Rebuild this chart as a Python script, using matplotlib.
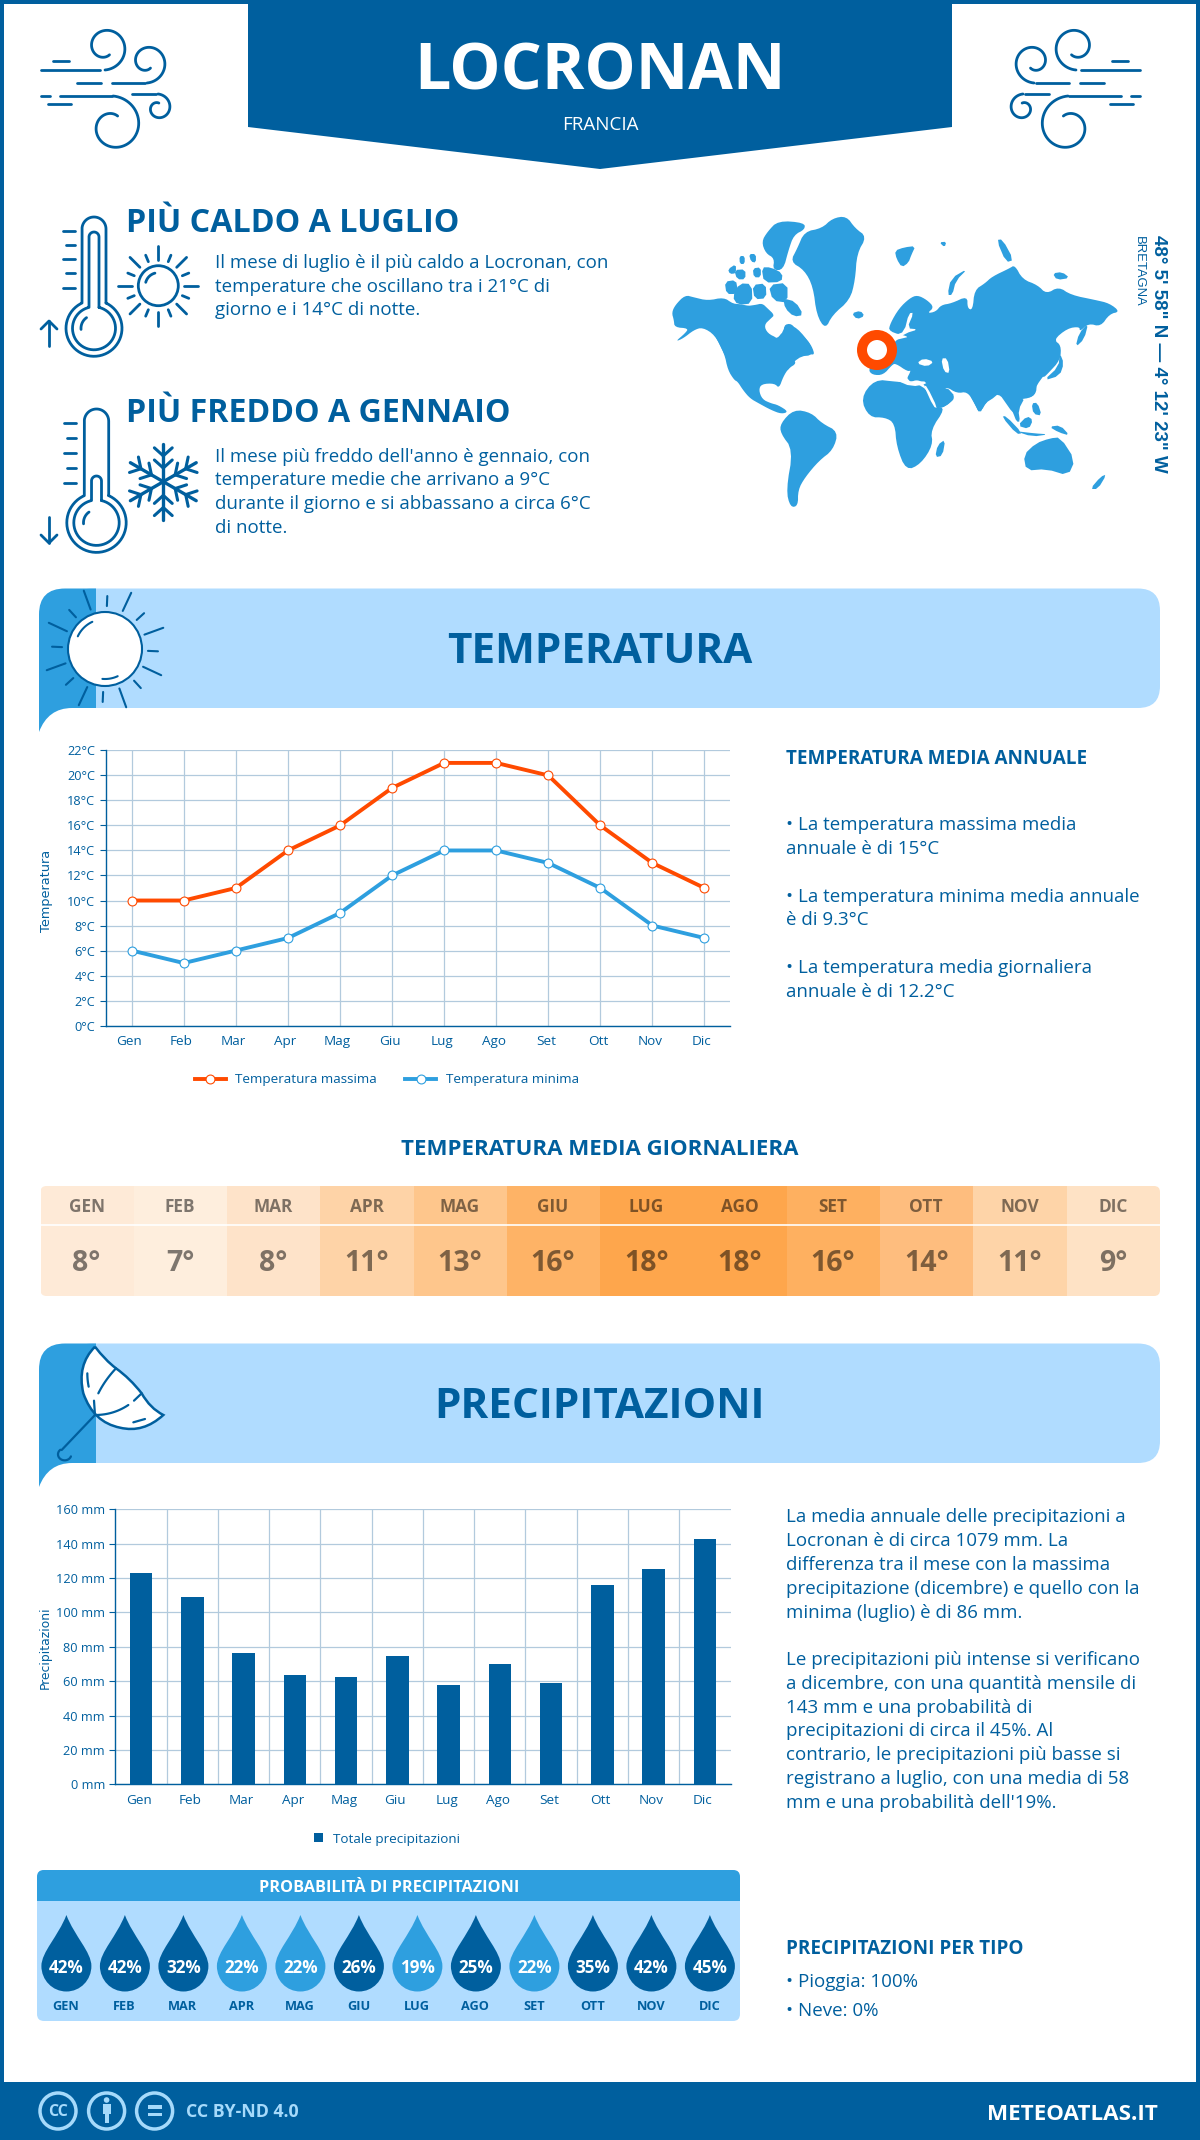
import numpy as np
import matplotlib
matplotlib.use("Agg")
import matplotlib.pyplot as plt
from matplotlib.patches import Rectangle, FancyBboxPatch, PathPatch, Circle, Ellipse
from matplotlib.path import Path
from matplotlib.transforms import ScaledTranslation

plt.rcParams['font.family'] = ['Open Sans', 'DejaVu Sans']

months = ["Gen", "Feb", "Mar", "Apr", "Mag", "Giu", "Lug", "Ago", "Set", "Ott", "Nov", "Dic"]
temp_max = [10, 10, 11, 14, 16, 19, 21, 21, 20, 16, 13, 11]
temp_min = [6, 5, 6, 7, 9, 12, 14, 14, 13, 11, 8, 7]
temp_ticks = list(range(0, 23, 2))
daily_mean = [8, 7, 8, 11, 13, 16, 18, 18, 16, 14, 11, 9]
daily_colors = ["#FEEAD7", "#FEEEDD", "#FEE3C9", "#FED3A7", "#FEC68C", "#FEB366",
                "#FEA64C", "#FEA64C", "#FEB060", "#FEBD7E", "#FED4A8", "#FEE2C5"]
rain = [123, 109, 76.4, 63.6, 62.4, 74.7, 57.8, 70, 59, 116, 125.3, 143]
rain_ticks = list(range(0, 161, 20))
rain_prob = [42, 42, 32, 22, 22, 26, 19, 25, 22, 35, 42, 45]

DARK = "#005F9E"
MID = "#2E9FDF"
LIGHT = "#B0DCFF"
ORANGE = "#FF4A00"
GRID = "#B2CADD"

W, H = 1200, 2140
fig = plt.figure(figsize=(W / 100, H / 100), dpi=100, facecolor="white")
bg = fig.add_axes([0, 0, 1, 1])
bg.set_xlim(0, W)
bg.set_ylim(H, 0)
bg.axis("off")


def txt(x, y, s, size, weight="normal", color=DARK, ha="left", **kw):
    return bg.text(x, y, s, fontsize=size, fontweight=weight, color=color, ha=ha, va="baseline", **kw)


def line(xs, ys, lw=2.0, color=DARK, **kw):
    bg.plot(xs, ys, color=color, lw=lw, solid_capstyle="round", solid_joinstyle="round", **kw)


def spiral(cx, cy, r0, r1, a0, a1, lw=2.0, color=DARK, flip=None):
    a = np.radians(np.linspace(a0, a1, 80))
    r = np.linspace(r0, r1, 80)
    xs = cx + r * np.cos(a)
    ys = cy + r * np.sin(a)
    if flip:
        xs = flip - xs
    line(xs, ys, lw, color)


def wind(flip=None):
    def seg(x0, y0, x1, y1):
        xs = np.array([x0, x1])
        line(flip - xs if flip else xs, [y0, y1], 2.0)
    seg(41, 70, 100, 70)
    seg(53, 61, 69, 61)
    seg(77, 83, 101, 83)
    seg(112, 83, 145, 83)
    seg(41, 96, 50, 96)
    seg(60, 96, 112, 96)
    seg(48, 104, 71, 104)
    seg(132, 94, 156, 94)
    spiral(105, 47, 23, 9, 90, -300, flip=flip)
    spiral(147, 62, 21, 7, 90, -300, flip=flip)
    spiral(113, 126, 30, 11, -90, 295, flip=flip)
    spiral(158, 108, 14, 5, -90, 280, flip=flip)


def thermometer(cx, top, tube, tube_in, top_in, cy, r, r_in, tick_x, tick_ys, arrow_y, up):
    for hw, t, rr in [(tube, top, r), (tube_in, top_in, r_in)]:
        a0 = np.degrees(np.arcsin(hw / rr))
        ang = np.radians(np.linspace(-90 + a0, 270 - a0, 100))
        xs = list(cx + rr * np.cos(ang))
        ys = list(cy + rr * np.sin(ang))
        cap = np.radians(np.linspace(180, 360, 30))
        xs += list(cx + hw * np.cos(cap))
        ys += list(t + hw + hw * np.sin(cap))
        xs.append(xs[0])
        ys.append(ys[0])
        line(xs, ys, 2.0)
    spiral(cx, cy, 13, 13, 175, 235)
    for i, y in enumerate(tick_ys):
        line([tick_x if i % 2 == 0 else tick_x + 3.5, tick_x + 12.5], [y, y], 2.0)
    tip, end = arrow_y if up else arrow_y[::-1]
    line([49, 49], [tip, end], 2.0)
    d = 8 if up else -8
    line([41, 49, 57], [tip + d, tip, tip + d], 2.0)


def sun(cx, cy, r, long0, long1, short0, short1, rot, lw, fill="none"):
    for k in range(16):
        a = np.radians(rot + k * 22.5)
        r0, r1 = (long0, long1) if k % 2 == 0 else (short0, short1)
        line([cx + r0 * np.cos(a), cx + r1 * np.cos(a)], [cy + r0 * np.sin(a), cy + r1 * np.sin(a)], lw)
    bg.add_patch(Circle((cx, cy), r, fc=fill, ec=DARK, lw=lw, zorder=3))


def snowflake(cx, cy, R):
    for k in range(6):
        a = np.radians(90 + 60 * k)
        ux, uy = np.cos(a), np.sin(a)
        line([cx, cx + R * ux], [cy, cy + R * uy], 2.4)
        for f in (0.68, 0.36):
            bx, by = cx + f * R * ux, cy + f * R * uy
            for s in (-1, 1):
                aa = a + s * np.radians(48)
                line([bx, bx + 12 * np.cos(aa)], [by, by + 12 * np.sin(aa)], 2.2)


def band(top, title):
    bot = top + 119.5
    bg.add_patch(FancyBboxPatch((70, top), 1090, bot - top, boxstyle="round,pad=0,rounding_size=22",
                                fc=LIGHT, ec="none", zorder=1))
    verts = [(39, bot + 24), (39, top + 26), (39, top), (65, top), (96, top), (96, bot), (72, bot),
             (48, bot), (39, bot + 24), (39, bot + 24)]
    codes = [Path.MOVETO, Path.LINETO, Path.CURVE3, Path.CURVE3, Path.LINETO, Path.LINETO, Path.LINETO,
             Path.CURVE3, Path.CURVE3, Path.CLOSEPOLY]
    bg.add_patch(PathPatch(Path(verts, codes), fc=MID, ec="none", zorder=1.1))
    txt(600, top + 74.5, title, 30.4, "bold", ha="center", zorder=5)


def umbrella():
    # all points below are in crop units, origin at 30,1335, scale 3
    def u(p):
        return [(30 + a / 3, 1335 + b / 3) for a, b in p]
    v = u([(195, 35), (225, 75), (258, 100), (300, 130), (335, 175), (360, 220), (400, 240),
           (340, 295), (270, 278), (190, 262), (160, 175), (140, 90), (195, 35)])
    c = [Path.MOVETO] + [Path.CURVE3] * 12
    bg.add_patch(PathPatch(Path(v, c), fc="white", ec=DARK, lw=1.8, zorder=4))
    for seg in ([(195, 240), (192, 197)], [(205, 175), (225, 135), (258, 100)],
                [(195, 240), (250, 240), (295, 210)], [(312, 197), (335, 175)],
                [(172, 115), (172, 135), (176, 155)], [(310, 262), (345, 252)],
                [(195, 240), (95, 345)]):
        pts = u(seg)
        if len(pts) == 3:
            t = np.linspace(0, 1, 20)
            xs = (1 - t) ** 2 * pts[0][0] + 2 * t * (1 - t) * pts[1][0] + t ** 2 * pts[2][0]
            ys = (1 - t) ** 2 * pts[0][1] + 2 * t * (1 - t) * pts[1][1] + t ** 2 * pts[2][1]
        else:
            xs, ys = zip(*pts)
        line(xs, ys, 1.6, zorder=5)
    a = np.radians(np.linspace(-130, -340, 30))
    line(30 + (104 + 20 * np.cos(a)) / 3, 1335 + (358 + 18 * np.sin(a)) / 3, 1.6, zorder=5)


# frame, header, footer
bg.add_patch(Rectangle((0, 0), W, 3.5, fc=DARK, ec="none"))
bg.add_patch(Rectangle((0, 0), 3.5, H, fc=DARK, ec="none"))
bg.add_patch(Rectangle((1196, 0), 4, H, fc=DARK, ec="none"))
bg.add_patch(Rectangle((0, 2082), W, H - 2082, fc=DARK, ec="none"))
bg.fill([248, 952, 952, 600, 248], [0, 0, 127, 169, 127], color=DARK, lw=0)
txt(600, 89, "LOCRONAN", 46.5, "bold", "white", ha="center")
txt(600, 130, "FRANCIA", 13.5, "normal", "white", ha="center")
wind()
wind(flip=1181)

# two facts on hot / cold month
txt(125.5, 232, "PIÙ CALDO A LUGLIO", 23.2, "bold")
for y, s in zip([268, 292, 315], ["Il mese di luglio è il più caldo a Locronan, con",
                                  "temperature che oscillano tra i 21°C di",
                                  "giorno e i 14°C di notte."]):
    txt(215, y, s, 13.5)
txt(125.5, 422, "PIÙ FREDDO A GENNAIO", 23.1, "bold")
for y, s in zip([462, 485, 509, 533], ["Il mese più freddo dell'anno è gennaio, con",
                                       "temperature medie che arrivano a 9°C",
                                       "durante il giorno e si abbassano a circa 6°C",
                                       "di notte."]):
    txt(215, y, s, 13.5)
thermometer(94, 217, 12, 5, 232, 328.3, 28, 21.5, 62.5, [231, 245, 259.3, 273.3, 287.7], (321, 346), True)
thermometer(96.5, 409, 12.2, 5, 476, 522.7, 29.7, 22.7, 63.5, [423.3, 438, 453, 467.7, 482.7], (517, 543), False)
sun(158.3, 285.7, 20, 26, 40, 26, 33, 0, 2.0)
spiral(158.3, 285.7, 13, 13, 195, 255)
snowflake(163.3, 481.7, 38)

# world map, points are in crop units of the reference (origin 650,190)
land = [
    # north america
    [(62, 368), (72, 345), (100, 315), (125, 322), (165, 332), (210, 322), (235, 340), (262, 350), (300, 345),
     (320, 340), (335, 355), (355, 375), (345, 385), (325, 405), (335, 430), (365, 445), (372, 470), (385, 440),
     (380, 405), (405, 400), (420, 430), (445, 445), (462, 470), (470, 497), (445, 487), (420, 495), (405, 505),
     (418, 520), (395, 535), (380, 560), (368, 595), (355, 580), (318, 582), (310, 600), (320, 628), (345, 640),
     (365, 645), (395, 665), (375, 672), (345, 660), (310, 640), (285, 625), (265, 600), (250, 575), (240, 570),
     (222, 540), (212, 490), (185, 435), (150, 412), (125, 420), (95, 445), (72, 455), (100, 430), (110, 415),
     (70, 412), (68, 390)],
    [(130, 330), (330, 350), (320, 400), (330, 430), (365, 450), (380, 410), (410, 405), (450, 450), (470, 495),
     (420, 500), (380, 560), (250, 570), (215, 500), (185, 435)],
    # greenland
    [(400, 215), (420, 175), (440, 125), (490, 115), (520, 85), (560, 78), (585, 115), (618, 140), (590, 190),
     (585, 270), (570, 330), (520, 375), (500, 418), (475, 375), (465, 290), (440, 240)],
    # arctic islands
    [(335, 125), (365, 92), (440, 98), (442, 118), (410, 135), (395, 180), (380, 240), (350, 240), (355, 205),
     (330, 190), (318, 155)],
    [(213, 275), (245, 270), (250, 300), (245, 312), (218, 312)],
    [(255, 280), (290, 282), (292, 340), (250, 345), (235, 320)],
    [(292, 285), (330, 280), (332, 325), (298, 328)],
    [(338, 285), (392, 278), (392, 338), (350, 332)],
    [(380, 325), (415, 335), (438, 375), (410, 380), (385, 355)],
    [(222, 238), (245, 222), (245, 250), (228, 252)],
    [(240, 240), (272, 238), (272, 268), (248, 268)],
    [(293, 235), (316, 232), (316, 262), (296, 262)],
    [(318, 232), (345, 232), (378, 250), (375, 276), (325, 278)],
    [(282, 192), (302, 192), (302, 218), (288, 215)],
    [(255, 198), (270, 198), (270, 222), (256, 222)],
    # south america
    [(372, 700), (410, 658), (460, 668), (490, 700), (537, 725), (522, 780), (482, 812), (442, 862), (422, 900),
     (422, 948), (400, 952), (388, 900), (408, 780), (372, 730)],
    # africa
    [(600, 625), (640, 568), (700, 575), (780, 582), (815, 650), (842, 655), (800, 720), (807, 765), (772, 822),
     (730, 842), (703, 770), (698, 700), (670, 682), (625, 682)],
    # eurasia
    [(680, 425), (685, 400), (710, 355), (740, 325), (762, 315), (790, 330), (810, 352), (790, 370), (815, 365),
     (830, 345), (860, 340), (905, 318), (905, 355), (920, 360), (925, 300), (955, 280), (975, 260), (1025, 235),
     (1040, 225), (1062, 268), (1105, 285), (1130, 312), (1165, 290), (1200, 315), (1270, 330), (1310, 340),
     (1340, 365), (1310, 372), (1285, 410), (1250, 400), (1225, 425), (1225, 410), (1190, 415), (1150, 450),
     (1172, 465), (1170, 510), (1135, 550), (1120, 565), (1090, 540), (1085, 550), (1105, 590), (1095, 620),
     (1060, 625), (1040, 630), (1050, 665), (1035, 670), (1015, 640), (995, 610), (965, 625), (940, 672),
     (925, 640), (905, 605), (875, 610), (845, 590), (835, 585), (850, 605), (872, 622), (842, 650), (818, 655),
     (790, 600), (775, 575), (760, 570), (745, 575), (730, 570), (745, 540), (735, 545), (700, 520), (690, 525),
     (665, 555), (635, 555), (622, 540), (640, 510), (680, 500), (685, 480), (700, 450), (720, 445), (740, 440)],
    [(830, 400), (1150, 400), (1165, 500), (1120, 560), (1100, 590), (1095, 622), (1040, 630), (995, 610),
     (905, 600), (850, 595), (790, 590), (760, 540), (700, 500)],
    [(905, 600), (1000, 600), (985, 620), (955, 640), (940, 672), (925, 640)],
    [(1015, 620), (1070, 620), (1050, 660), (1055, 695), (1045, 695), (1035, 668)],
    [(790, 600), (845, 590), (872, 622), (842, 650), (818, 655)],
    # smaller land
    [(575, 370), (600, 362), (612, 378), (590, 388)],
    [(698, 182), (725, 172), (757, 168), (745, 195), (737, 218), (718, 232), (703, 207)],
    [(848, 315), (858, 265), (907, 235), (872, 272), (862, 315)],
    [(988, 150), (1005, 148), (1037, 210), (1015, 217)],
    [(1122, 572), (1165, 530), (1168, 488), (1180, 520), (1168, 557)],
    [(1213, 472), (1223, 430), (1250, 398), (1238, 447)],
    [(813, 802), (820, 765), (842, 748), (834, 797)],
    [(1065, 795), (1100, 760), (1140, 745), (1170, 742), (1212, 810), (1192, 857), (1130, 837), (1073, 842)],
    [(1255, 897), (1285, 860), (1302, 853), (1277, 897)],
    [(1003, 680), (1015, 678), (1062, 730), (1045, 732)],
    [(1048, 707), (1075, 678), (1092, 690), (1080, 717)],
    [(1138, 710), (1170, 706), (1197, 737), (1165, 727)],
    [(1088, 640), (1105, 638), (1117, 677), (1093, 672)],
    [(1040, 723), (1095, 730), (1137, 733), (1090, 740)],
    [(1148, 250), (1175, 246), (1197, 264), (1160, 270)],
    [(825, 157), (845, 155), (840, 172)],
]
seas = [
    [(738, 370), (752, 368), (733, 415), (765, 418), (728, 430), (705, 450), (700, 435), (725, 425)],
    [(760, 520), (780, 505), (810, 515), (790, 530)],
    [(830, 505), (848, 505), (855, 550), (838, 545)],
    [(780, 585), (790, 590), (820, 655), (808, 650)],
    [(665, 560), (695, 530), (712, 540), (738, 570), (745, 580), (780, 572), (790, 582), (745, 590), (700, 570)],
    [(345, 395), (385, 395), (380, 425), (365, 440), (340, 420)],
]


def smooth(p, n=1):
    p = np.array(p, float)
    for _ in range(n):
        q = np.roll(p, -1, axis=0)
        p = np.column_stack([0.75 * p + 0.25 * q, 0.25 * p + 0.75 * q]).reshape(-1, 2)
    return p


for p in land:
    s = smooth(p, 2 if len(p) > 10 else 1)
    bg.fill(650 + s[:, 0] / 2.851, 190 + s[:, 1] / 3, color=MID, lw=0)
for p in seas:
    s = smooth(p)
    bg.fill(650 + s[:, 0] / 2.851, 190 + s[:, 1] / 3, color="white", lw=0)
bg.add_patch(Circle((877, 350), 15, fc="white", ec=ORANGE, lw=7.2, zorder=3))
txt(1154, 235, "48° 5' 58\" N — 4° 12' 23\" W", 13.5, "bold", rotation=-90, family="Liberation Sans",
    rotation_mode="anchor")
txt(1136, 236, "BRETAGNA", 9.4, "normal", rotation=-90, family="Liberation Sans", rotation_mode="anchor")

# temperature section
band(588.5, "TEMPERATURA")
sun(105, 649, 37, 42, 62, 43, 53, -110, 1.5, fill="white")
for a0, a1 in [(205, 245), (65, 95)]:
    a = np.radians(np.linspace(a0, a1, 20))
    line(105 + 30 * np.cos(a), 649 + 30 * np.sin(a), 1.5, zorder=4)

ax1 = fig.add_axes([105.7 / W, 1 - 1025.6 / H, 624.8 / W, 275.2 / H])
ax1.patch.set_alpha(0)
ax1.plot(months, temp_max, color=ORANGE, lw=2.8, marker="o", ms=6.4, mfc="white", mec=ORANGE, mew=0.8,
         label="Temperatura massima", zorder=3, clip_on=False)
ax1.plot(months, temp_min, color=MID, lw=2.8, marker="o", ms=6.4, mfc="white", mec=MID, mew=0.8,
         label="Temperatura minima", zorder=3, clip_on=False)
ax1.set_xlim(-0.5, 11.5)
ax1.set_ylim(0, 22)
ax1.set_yticks(temp_ticks)
ax1.set_yticklabels([f"{v}°C" for v in temp_ticks])
ax1.grid(True, color=GRID, lw=0.9)
ax1.set_axisbelow(True)
ax1.set_ylabel("Temperatura", family="DejaVu Sans", fontsize=9.3, color=DARK)
ax1.yaxis.set_label_coords((53 - 105.7) / 624.8, 0.49)
ax1.legend(loc="center", bbox_to_anchor=(387 / W, 1 - 1080 / H), bbox_transform=fig.transFigure, ncol=2,
           frameon=False, fontsize=9.7, labelcolor=DARK, numpoints=1, handlelength=2.3, handletextpad=0.7,
           columnspacing=2.1)

ax2 = fig.add_axes([115.4 / W, 1 - 1784.3 / H, 615.1 / W, 275 / H])
ax2.patch.set_alpha(0)
ax2.bar(months, rain, width=0.44, color=DARK, label="Totale precipitazioni", zorder=3)
ax2.set_xlim(-0.5, 11.5)
ax2.set_ylim(0, 160)
ax2.set_yticks(rain_ticks)
ax2.set_yticklabels([f"{v} mm" for v in rain_ticks])
ax2.set_xticks(np.arange(0.5, 11), minor=True)
ax2.grid(True, axis="y", color=GRID, lw=0.9)
ax2.grid(True, axis="x", which="minor", color=GRID, lw=0.9)
ax2.set_axisbelow(True)
ax2.tick_params(axis="x", which="minor", length=0)
ax2.set_ylabel("Precipitazioni", family="DejaVu Sans", fontsize=8.9, color=DARK)
ax2.yaxis.set_label_coords((52 - 115.4) / 615.1, 0.495)
ax2.legend(loc="center", bbox_to_anchor=(387 / W, 1 - 1839 / H), bbox_transform=fig.transFigure,
           frameon=False, fontsize=9.7, labelcolor=DARK, handlelength=0.62, handleheight=0.62, handletextpad=0.75)

for ax, shift in [(ax1, -2.5), (ax2, -2)]:
    for s in ("top", "right"):
        ax.spines[s].set_visible(False)
    for s in ("left", "bottom"):
        ax.spines[s].set_color(DARK)
        ax.spines[s].set_linewidth(1.0)
    ax.tick_params(axis="y", length=4.5, width=0.8, color=DARK, labelsize=9.2, labelcolor=DARK, pad=3)
    ax.tick_params(axis="x", which="major", length=0, labelsize=9.7, labelcolor=DARK, pad=7)
    off = ScaledTranslation(shift / 100, 0, fig.dpi_scale_trans)
    for lab in ax.get_xticklabels():
        lab.set_transform(lab.get_transform() + off)

txt(785.5, 764, "TEMPERATURA MEDIA ANNUALE", 13.6, "bold")
for y, s in zip([830, 854, 902, 925, 973, 997], ["• La temperatura massima media", "annuale è di 15°C",
                                                 "• La temperatura minima media annuale", "è di 9.3°C",
                                                 "• La temperatura media giornaliera", "annuale è di 12.2°C"]):
    txt(785.5, y, s, 13.5)

# daily mean table
txt(600, 1155, "TEMPERATURA MEDIA GIORNALIERA", 16, "bold", ha="center")
clip = FancyBboxPatch((40.5, 1186), 1119.5, 110, boxstyle="round,pad=0,rounding_size=6", fc="none", ec="none")
bg.add_patch(clip)
cw = 1119.5 / 12
for i, (m, v, c) in enumerate(zip(months, daily_mean, daily_colors)):
    x = 40.5 + i * cw
    r = Rectangle((x, 1186), cw + 0.5, 110, fc=c, ec="none", zorder=1)
    bg.add_patch(r)
    r.set_clip_path(clip)
    txt(x + cw / 2 - 0.5, 1212, m.upper(), 12.4, "bold", "black", ha="center", alpha=0.5, zorder=2)
    txt(x + cw / 2 - 0.5, 1271, f"{v}°", 20.5, "bold", "black", ha="center", alpha=0.5, zorder=2)
bg.plot([40.5, 1160], [1225, 1225], color="white", lw=1.2, zorder=2)

# rain section
band(1343.5, "PRECIPITAZIONI")
umbrella()
for y, s in zip([1522, 1546, 1570, 1594, 1618, 1665, 1689, 1713, 1736, 1760, 1784, 1808],
                ["La media annuale delle precipitazioni a", "Locronan è di circa 1079 mm. La",
                 "differenza tra il mese con la massima", "precipitazione (dicembre) e quello con la",
                 "minima (luglio) è di 86 mm.", "Le precipitazioni più intense si verificano",
                 "a dicembre, con una quantità mensile di", "143 mm e una probabilità di",
                 "precipitazioni di circa il 45%. Al", "contrario, le precipitazioni più basse si",
                 "registrano a luglio, con una media di 58", "mm e una probabilità dell'19%."]):
    txt(785.5, y, s, 13.5)
txt(785.5, 1954, "PRECIPITAZIONI PER TIPO", 13.6, "bold")
txt(785.5, 1987, "• Pioggia: 100%", 13.5)
txt(785.5, 2016, "• Neve: 0%", 13.5)

# rain probability panel
panel = FancyBboxPatch((37, 1870), 703, 151, boxstyle="round,pad=0,rounding_size=7", fc=LIGHT, ec="none", zorder=1)
bg.add_patch(panel)
head = Rectangle((37, 1870), 703, 31, fc=MID, ec="none", zorder=1.1)
bg.add_patch(head)
head.set_clip_path(panel)
txt(389, 1892.5, "PROBABILITÀ DI PRECIPITAZIONI", 11.7, "bold", "white", ha="center", zorder=2)
drop_v = [(0, -51), (-8, -30), (-25, -14), (-25, 0), (-25, 14), (-14, 25.5), (0, 25.5), (14, 25.5), (25, 14), (25, 0),
          (25, -14), (8, -30), (0, -51)]
drop_c = [Path.MOVETO] + [Path.CURVE4] * 12
for i, (m, p) in enumerate(zip(months, rain_prob)):
    cx = 66.4 + 58.5 * i
    verts = [(cx + a, 1966 + b) for a, b in drop_v]
    bg.add_patch(PathPatch(Path(verts, drop_c), fc=DARK if p >= 25 else MID, ec="none", zorder=2))
    txt(cx, 1973, f"{p}%", 12.3, "bold", "white", ha="center", zorder=3)
    txt(cx - 0.5, 2010, m.upper(), 9.2, "bold", DARK, ha="center", zorder=3)

# footer
FOOT = "#A6DAFB"
for cx in (58, 106.6, 154.6):
    bg.add_patch(Ellipse((cx, 2111), 36, 36, fc="none", ec=FOOT, lw=2.5, zorder=3))
txt(58, 2116.5, "CC", 11.5, "bold", FOOT, ha="center", zorder=3)
bg.add_patch(Circle((106.6, 2100), 2.8, fc=FOOT, ec="none", zorder=3))
bg.add_patch(Rectangle((102.5, 2104), 8.2, 10, fc=FOOT, ec="none", zorder=3))
bg.add_patch(Rectangle((104.5, 2113), 4.2, 10, fc=FOOT, ec="none", zorder=3))
bg.add_patch(Rectangle((147.5, 2105), 14, 3.6, fc=FOOT, ec="none", zorder=3))
bg.add_patch(Rectangle((147.5, 2112.5), 14, 3.6, fc=FOOT, ec="none", zorder=3))
txt(185.5, 2117, "CC BY-ND 4.0", 12.8, "bold", FOOT)
txt(1158, 2120, "METEOATLAS.IT", 16.1, "bold", "white", ha="right")

fig.savefig("out.png", dpi=100)
